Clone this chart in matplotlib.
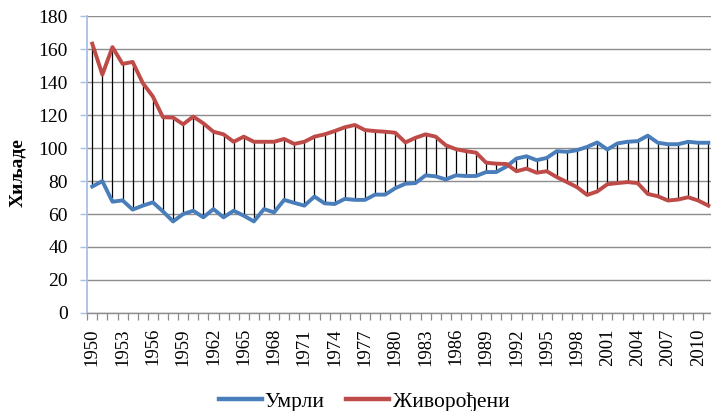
import numpy as np
import matplotlib
matplotlib.use("Agg")
import matplotlib.pyplot as plt
from matplotlib.ticker import FixedLocator, NullFormatter

plt.rcParams['font.family'] = ['Liberation Serif', 'DejaVu Serif']

# data (thousands)
years = list(range(1950, 2012))
deaths = [76.7, 80.0, 67.5, 68.3, 62.7, 65.1, 67.1, 61.6, 55.5, 60.0,
          62.0, 58.0, 63.0, 58.0, 62.0, 59.0, 55.5, 63.0, 61.0, 68.6,
          66.8, 65.1, 70.6, 66.5, 66.1, 69.2, 68.6, 68.6, 71.8, 71.8,
          75.7, 78.4, 78.8, 83.5, 82.9, 81.0, 83.5, 83.1, 83.1, 85.5,
          85.5, 88.8, 93.7, 95.1, 92.7, 94.1, 98.2, 97.8, 98.8, 100.8,
          103.5, 99.2, 102.9, 103.9, 104.3, 107.6, 103.3, 102.4, 102.4, 103.9,
          103.3, 103.3]
births = [163.5, 144.7, 161.4, 151.2, 152.4, 139.6, 131.4, 118.8, 118.6, 114.5,
          119.2, 115.1, 110.0, 108.4, 103.9, 107.0, 103.9, 103.9, 103.9, 105.6,
          102.6, 103.9, 107.0, 108.4, 110.4, 112.7, 114.1, 111.0, 110.4, 110.0,
          109.4, 103.5, 106.3, 108.4, 107.0, 101.8, 99.4, 98.2, 97.3, 91.2,
          90.6, 90.4, 86.0, 87.6, 85.1, 86.0, 82.4, 79.4, 76.3, 71.6,
          73.7, 78.1, 78.8, 79.4, 78.8, 72.2, 70.8, 68.2, 68.8, 70.2,
          68.2, 65.1]
series_names = ['Умрли', 'Живорођени']
series_colors = ['#4a7ebb', '#be4b48']
ylabel = 'Хиљаде'

W, H = 711, 411
fig = plt.figure(figsize=(W / 100, H / 100), dpi=100)
# plot area: left 87 px, top 16.5 px, bottom 312.8 px; extends a bit past the right edge
ax = fig.add_axes([87.2 / W, (H - 312.8) / H, 626.2 / W, (312.8 - 16.5) / H])

x = np.arange(len(years))
lo = np.minimum(deaths, births)
hi = np.maximum(deaths, births)
ax.vlines(x, lo, hi, colors='black', linewidth=0.9, zorder=2)
ax.plot(x, deaths, color=series_colors[0], linewidth=2.8, label=series_names[0],
        zorder=3, solid_joinstyle='round')
ax.plot(x, births, color=series_colors[1], linewidth=2.8, label=series_names[1],
        zorder=3, solid_joinstyle='round')

ax.set_xlim(-0.5, len(years) - 0.5)
ax.set_ylim(0, 180)
ax.set_yticks(np.arange(0, 181, 20))
ax.yaxis.grid(True, color='#8c8c8c', linewidth=1.0)
ax.set_axisbelow(True)

# x axis: labels every 3 years at category centres, tick marks at category boundaries
ax.set_xticks(x[::3])
ax.set_xticklabels([str(y) for y in years[::3]], rotation=90, fontsize=13.5)
ax.xaxis.set_minor_locator(FixedLocator(np.arange(-0.5, len(years), 1.0)))
ax.xaxis.set_minor_formatter(NullFormatter())
ax.tick_params(axis='x', which='major', length=0, pad=11)
ax.tick_params(axis='x', which='minor', length=5, width=0.9, color='#8c8c8c')
ax.tick_params(axis='y', which='major', length=5, width=1.0, color='#a9c0e4',
               labelsize=14, pad=9)

for side in ['top', 'right']:
    ax.spines[side].set_visible(False)
ax.spines['left'].set_color('#a9c0e4')
ax.spines['left'].set_linewidth(1.3)
ax.spines['bottom'].set_color('#8c8c8c')
ax.spines['bottom'].set_linewidth(1.0)

fig.text(18 / W, 1 - 173 / H, ylabel, rotation=90, fontsize=14, fontweight='bold',
         ha='center', va='center')

leg = fig.legend(loc='center', bbox_to_anchor=(364 / W, 0.022), ncol=2, frameon=False,
                 fontsize=15.5, handlelength=2.0, columnspacing=1.0, handletextpad=0.15)
for line in leg.get_lines():
    line.set_linewidth(3.2)

fig.savefig('out.png', dpi=100)
